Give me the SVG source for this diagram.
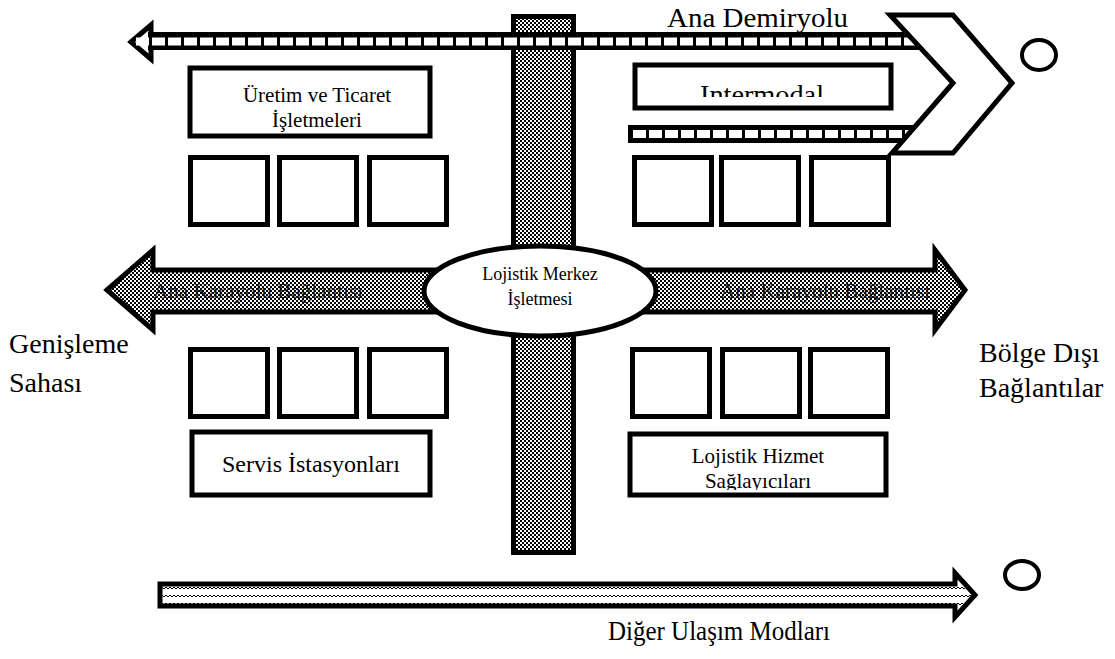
<svg xmlns="http://www.w3.org/2000/svg" width="1115" height="659" viewBox="0 0 1115 659" font-family="'Liberation Serif', 'DejaVu Serif', serif">
<defs>
<pattern id="checker" width="4" height="4" patternUnits="userSpaceOnUse">
<rect width="4" height="4" fill="#fff"/>
<rect width="2" height="2" fill="#000"/>
<rect x="2" y="2" width="2" height="2" fill="#000"/>
</pattern>
<pattern id="zigzag" width="8" height="8" patternUnits="userSpaceOnUse">
<rect width="8" height="8" fill="#fff"/>
<path d="M0,5 L2,3 L4,5 L6,3 L8,5" fill="none" stroke="#000" stroke-width="1"/>
</pattern>
<clipPath id="clipInter"><rect x="638" y="68" width="250" height="29"/></clipPath>
<clipPath id="clipUretim"><rect x="193" y="71" width="234" height="61"/></clipPath>
<clipPath id="clipHizmet"><rect x="633" y="437" width="250" height="53"/></clipPath>
</defs>
<style>
.box{fill:#fff;stroke:#000;stroke-width:5}
.t{font-family:'Liberation Serif','DejaVu Serif',serif;fill:#000}
.dash{stroke:#fff;stroke-width:8;stroke-dasharray:13 3;fill:none}
.band{fill:#000}
.pat{fill:url(#checker);stroke:#000;stroke-width:5;stroke-linejoin:miter}
</style>

<g id="connectors">
  <polygon class="pat" points="107,290 153,250 153,270 480,270 480,312 153,312 153,330"/>
  <polygon class="pat" points="600,270 935,270 935,250 965,290 935,330 935,312 600,312"/>
  <text class="t" x="153" y="298" font-size="21" textLength="210" lengthAdjust="spacingAndGlyphs" fill-opacity="0.85">Ana Karayolu Bağlantısı</text>
  <text class="t" x="720" y="298" font-size="21" textLength="210" lengthAdjust="spacingAndGlyphs" fill-opacity="0.85">Ana Karayolu Bağlantısı</text>

  <rect x="513.5" y="16.5" width="60" height="536" fill="url(#checker)" stroke="#000" stroke-width="5"/>

  <polygon points="131,42 151,25 151,59" fill="#fff" stroke="#000" stroke-width="5" stroke-linejoin="miter"/>
  <rect class="band" x="148" y="32" width="785" height="18"/>
  <line class="dash" x1="136" y1="41.5" x2="933" y2="41.5"/>

  <rect class="band" x="628" y="125" width="300" height="18"/>
  <line class="dash" x1="633" y1="134" x2="928" y2="134"/>

  <polygon points="890,15 953,15 1012,83 953,153 892,153 953,83" fill="#fff" stroke="#000" stroke-width="5" stroke-linejoin="miter"/>

  <polygon points="160,584 955,584 955,573 975,595 955,617 955,606 160,606" fill="url(#zigzag)" stroke="#000" stroke-width="5" stroke-linejoin="miter"/>
</g>

<g id="node-center">
  <ellipse cx="540" cy="291" rx="116" ry="45" fill="#fff" stroke="#000" stroke-width="5"/>
  <text class="t" x="540" y="280" font-size="18" text-anchor="middle">Lojistik Merkez</text>
  <text class="t" x="540" y="305" font-size="18" text-anchor="middle">İşletmesi</text>
</g>

<g id="node-uretim">
  <rect class="box" x="190" y="68" width="240" height="68"/>
  <g clip-path="url(#clipUretim)">
    <text class="t" x="317" y="102" font-size="21" text-anchor="middle">Üretim ve Ticaret</text>
    <text class="t" x="317" y="127" font-size="21" text-anchor="middle">İşletmeleri</text>
  </g>
</g>

<g id="node-intermodal">
  <rect class="box" x="635" y="65" width="256" height="43"/>
  <g clip-path="url(#clipInter)">
    <text class="t" x="762" y="104" font-size="28" text-anchor="middle" textLength="124" lengthAdjust="spacingAndGlyphs">Intermodal</text>
  </g>
</g>

<g id="squares-top-left">
  <rect class="box" x="190.5" y="157.5" width="77" height="67"/>
  <rect class="box" x="279.5" y="157.5" width="77" height="67"/>
  <rect class="box" x="369.5" y="157.5" width="77" height="67"/>
</g>
<g id="squares-top-right">
  <rect class="box" x="634.5" y="157.5" width="77" height="67"/>
  <rect class="box" x="721.5" y="157.5" width="77" height="67"/>
  <rect class="box" x="811.5" y="157.5" width="77" height="67"/>
</g>
<g id="squares-bottom-left">
  <rect class="box" x="190.5" y="349.5" width="77" height="67"/>
  <rect class="box" x="279.5" y="349.5" width="77" height="67"/>
  <rect class="box" x="369.5" y="349.5" width="77" height="67"/>
</g>
<g id="squares-bottom-right">
  <rect class="box" x="632.5" y="349.5" width="77" height="67"/>
  <rect class="box" x="722.5" y="349.5" width="77" height="67"/>
  <rect class="box" x="810.5" y="349.5" width="77" height="67"/>
</g>

<g id="node-servis">
  <rect class="box" x="192" y="432" width="238" height="63"/>
  <text class="t" x="311" y="472" font-size="24" text-anchor="middle">Servis İstasyonları</text>
</g>

<g id="node-hizmet">
  <rect class="box" x="630" y="434" width="256" height="61"/>
  <g clip-path="url(#clipHizmet)">
    <text class="t" x="758" y="463" font-size="21" text-anchor="middle">Lojistik Hizmet</text>
    <text class="t" x="758" y="488" font-size="21" text-anchor="middle">Sağlayıcıları</text>
  </g>
</g>

<g id="circles">
  <ellipse cx="1039" cy="55" rx="17" ry="15" fill="none" stroke="#000" stroke-width="4"/>
  <ellipse cx="1022" cy="575" rx="17" ry="14" fill="none" stroke="#000" stroke-width="4"/>
</g>

<g id="labels">
  <text class="t" x="667" y="27" font-size="28" textLength="181" lengthAdjust="spacingAndGlyphs">Ana Demiryolu</text>
  <text class="t" x="9" y="353" font-size="28">Genişleme</text>
  <text class="t" x="9" y="392" font-size="28">Sahası</text>
  <text class="t" x="979" y="362" font-size="28">Bölge Dışı</text>
  <text class="t" x="979" y="397" font-size="28">Bağlantılar</text>
  <text class="t" x="608" y="640" font-size="27" textLength="222" lengthAdjust="spacingAndGlyphs">Diğer Ulaşım Modları</text>
</g>
</svg>
